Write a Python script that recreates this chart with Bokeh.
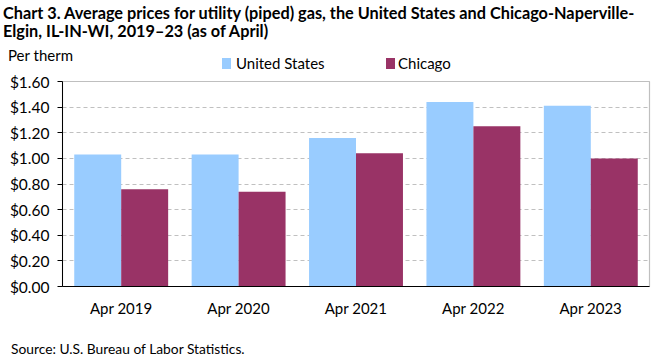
from bokeh.plotting import figure
from bokeh.layouts import column
from bokeh.models import (ColumnDataSource, FactorRange, Range1d, FixedTicker,
                          NumeralTickFormatter, Div)
from bokeh.transform import dodge
from bokeh.embed import file_html
from bokeh.resources import INLINE

# ---- data ----
periods = ["Apr 2019", "Apr 2020", "Apr 2021", "Apr 2022", "Apr 2023"]
us_prices = [1.03, 1.03, 1.16, 1.44, 1.41]
chicago_prices = [0.76, 0.74, 1.04, 1.25, 1.00]
y_ticks = [0.0, 0.2, 0.4, 0.6, 0.8, 1.0, 1.2, 1.4, 1.6]
series_names = ["United States", "Chicago"]

title_1 = "Chart 3. Average prices for utility (piped) gas, the United States and Chicago-Naperville-"
title_2 = "Elgin, IL-IN-WI, 2019\u201323 (as of April)"
unit_text = "Per therm"
source_text = "Source: U.S. Bureau of Labor Statistics."

US_COLOR = "#99ccff"
CHI_COLOR = "#993366"
FONT = "Lato"
W = 661


def txt(s, left, top, size, weight="normal", lh=1.2):
    return (f'<div style="position:absolute;left:{left}px;top:{top}px;font-family:{FONT};'
            f'font-size:{size}px;font-weight:{weight};line-height:{lh};white-space:nowrap;'
            f'color:#000;margin:0;padding:0">{s}</div>')


def key(left, top, color):
    return (f'<div style="position:absolute;left:{left}px;top:{top}px;width:9px;height:11px;'
            f'background:{color}"></div>')


# ---- header: title, unit, legend ----
header_html = ('<div style="position:relative;width:661px;height:71px;margin:0;padding:0">'
               + txt(title_1, 3, 5, 16.3, "bold", 1.0)
               + txt(title_2, 3, 23, 16.3, "bold", 1.0)
               + txt(unit_text, 8, 46, 15)
               + key(222, 58, US_COLOR) + txt(series_names[0], 236, 54, 15)
               + key(386, 58, CHI_COLOR) + txt(series_names[1], 398, 54, 15)
               + '</div>')
header = Div(text=header_html, width=W, height=71, margin=0)

# ---- main chart ----
src = ColumnDataSource(dict(period=periods, us=us_prices, chi=chicago_prices))
p = figure(width=W, height=255, output_backend="svg", toolbar_location=None,
           x_range=FactorRange(factors=periods, range_padding=0),
           y_range=Range1d(0, 1.6),
           min_border_left=62, min_border_right=12, min_border_top=10, min_border_bottom=40)
p.title.visible = False

p.vbar(x=dodge("period", -0.2, range=p.x_range), top="us", width=0.4,
       source=src, fill_color=US_COLOR, line_color=None)
p.vbar(x=dodge("period", 0.2, range=p.x_range), top="chi", width=0.4,
       source=src, fill_color=CHI_COLOR, line_color=None)

p.yaxis.ticker = FixedTicker(ticks=y_ticks)
p.yaxis.formatter = NumeralTickFormatter(format="$0.00")
p.yaxis.axis_line_color = "black"
p.yaxis.major_tick_line_color = "black"
p.yaxis.major_tick_out = 5
p.yaxis.major_tick_in = 0
p.yaxis.minor_tick_line_color = None
p.yaxis.major_label_standoff = 8
p.yaxis.major_label_text_font = FONT
p.yaxis.major_label_text_font_size = "15.5px"
p.yaxis.major_label_text_color = "black"

p.xaxis.axis_line_color = "black"
p.xaxis.major_tick_line_color = None
p.xaxis.minor_tick_line_color = None
p.xaxis.major_tick_out = 0
p.xaxis.major_label_standoff = 12
p.xaxis.major_label_text_font = FONT
p.xaxis.major_label_text_font_size = "15px"
p.xaxis.major_label_text_color = "black"

p.xgrid.grid_line_color = None
p.ygrid.ticker = FixedTicker(ticks=y_ticks[1:-1])
p.ygrid.grid_line_color = "#c0c0c0"
p.ygrid.grid_line_dash = "4 3"
p.ygrid.grid_line_width = 1

p.outline_line_color = "#bfbfbf"
p.outline_line_width = 1.2

# ---- footer: source ----
footer_html = ('<div style="position:relative;width:661px;height:35px;margin:0;padding:0">'
               + txt(source_text, 11, 15, 13.8) + '</div>')
footer = Div(text=footer_html, width=W, height=35, margin=0)

layout = column(header, p, footer, spacing=0)
open("out.html", "w").write(file_html(layout, INLINE))
